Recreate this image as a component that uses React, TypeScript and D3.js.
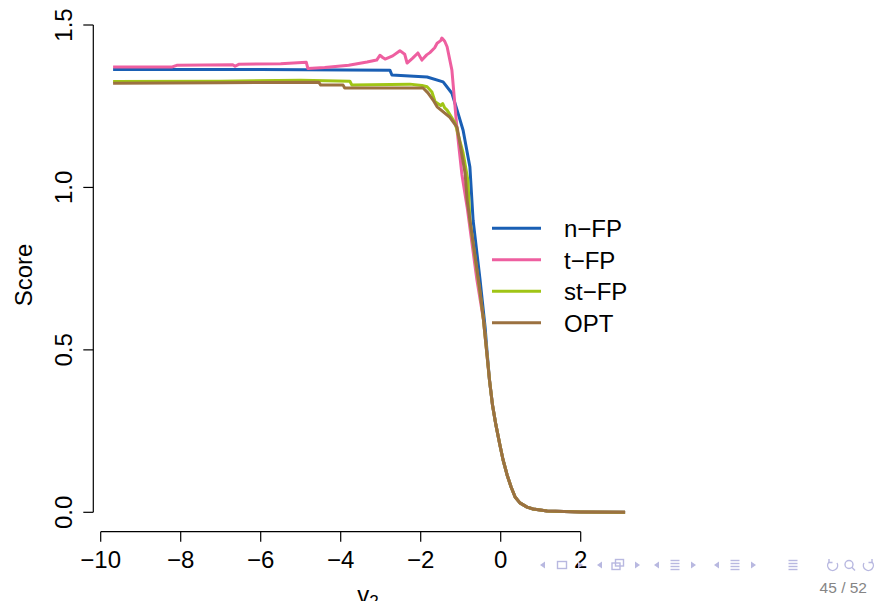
import React from 'react';
import { scaleLinear, line } from 'd3';

const width = 878;
const height = 601;

// axis ticks
const xTicks = [-10, -8, -6, -4, -2, 0, 2];
const yTicks = [0, 0.5, 1.0, 1.5];

// shared tail where all four curves coincide
const tail: [number, number][] = [
  [-0.28, 0.407], [-0.205, 0.33], [-0.12, 0.269], [-0.02, 0.207], [0.06, 0.161],
  [0.16, 0.115], [0.26, 0.078], [0.36, 0.047], [0.48, 0.029], [0.66, 0.016],
  [0.81, 0.01], [1.16, 0.004], [2.0, 0.001], [3.11, 0.0],
];

const nFP: [number, number][] = [
  [-9.69, 1.363], [-6.0, 1.363], [-2.77, 1.361], [-2.72, 1.346], [-1.84, 1.34],
  [-1.44, 1.325], [-1.22, 1.29], [-1.09, 1.238], [-0.94, 1.176], [-0.77, 1.063],
  [-0.69, 0.899], [-0.52, 0.72], [-0.39, 0.57], [-0.345, 0.5],
];

const tFP: [number, number][] = [
  [-9.69, 1.371], [-8.21, 1.371], [-8.1, 1.376], [-6.7, 1.378], [-6.64, 1.373],
  [-6.55, 1.379], [-5.5, 1.381], [-4.86, 1.385], [-4.82, 1.366], [-4.4, 1.369],
  [-3.8, 1.376], [-3.34, 1.386], [-3.1, 1.392], [-3.02, 1.407], [-2.95, 1.4],
  [-2.89, 1.395], [-2.7, 1.405], [-2.52, 1.421], [-2.4, 1.41], [-2.34, 1.383],
  [-2.2, 1.398], [-2.07, 1.414], [-1.97, 1.392], [-1.85, 1.408], [-1.77, 1.415],
  [-1.65, 1.43], [-1.59, 1.444], [-1.5, 1.452], [-1.47, 1.46], [-1.4, 1.45],
  [-1.34, 1.433], [-1.22, 1.361], [-1.09, 1.176], [-0.97, 1.04], [-0.84, 0.94],
  [-0.6, 0.72], [-0.43, 0.592], [-0.355, 0.5],
];

const stFP: [number, number][] = [
  [-9.69, 1.326], [-7.0, 1.327], [-5.0, 1.33], [-3.77, 1.327], [-3.72, 1.315],
  [-2.27, 1.318], [-1.97, 1.314], [-1.84, 1.31], [-1.72, 1.294], [-1.64, 1.264],
  [-1.5, 1.252], [-1.45, 1.258], [-1.4, 1.245], [-1.34, 1.238], [-1.14, 1.198],
  [-0.94, 1.106], [-0.82, 1.022], [-0.77, 0.899], [-0.5, 0.66], [-0.43, 0.592],
  [-0.355, 0.5],
];

const OPT: [number, number][] = [
  [-9.69, 1.321], [-7.0, 1.322], [-4.55, 1.324], [-4.5, 1.315], [-3.94, 1.315],
  [-3.9, 1.306], [-1.94, 1.306], [-1.82, 1.291], [-1.69, 1.269], [-1.59, 1.248],
  [-1.27, 1.216], [-1.09, 1.185], [-0.89, 1.044], [-0.84, 0.961], [-0.52, 0.684],
  [-0.43, 0.592], [-0.355, 0.5],
];

const seriesNames = ['n\u2212FP', 't\u2212FP', 'st\u2212FP', 'OPT'];
const seriesColors = ['#1A5FB4', '#EE5FA0', '#A0C516', '#9B7140'];
const seriesData = [nFP, tFP, stFP, OPT];

const font = '"Liberation Sans", Arial, Helvetica, sans-serif';
const navColor = '#B8B8E0';

const xScale = scaleLinear().domain([-10, 2]).range([100.7, 580.7]);
const yScale = scaleLinear().domain([0, 1.5]).range([512.3, 25]);

const path = line<[number, number]>()
  .x(d => xScale(d[0]))
  .y(d => yScale(d[1]));

const TriL = ({ x, y }: { x: number; y: number }) => (
  <path d={`M${x - 3},${y} L${x + 2},${y - 3.5} L${x + 2},${y + 3.5} Z`} fill={navColor} />
);
const TriR = ({ x, y }: { x: number; y: number }) => (
  <path d={`M${x + 3},${y} L${x - 2},${y - 3.5} L${x - 2},${y + 3.5} Z`} fill={navColor} />
);
const Bars = ({ x, y }: { x: number; y: number }) => (
  <g stroke={navColor} strokeWidth={1.4}>
    {[-4.5, -1.5, 1.5, 4.5].map((dy, i) => (
      <line key={i} x1={x - 4.5} x2={x + 4.5} y1={y + dy} y2={y + dy} />
    ))}
  </g>
);

const NavBar = () => {
  const y = 565;
  return (
    <g>
      <TriL x={543} y={y} />
      <rect x={557.5} y={y - 3.5} width={9} height={7} fill="none" stroke={navColor} strokeWidth={1.4} />
      <TriR x={580} y={y} />
      <TriL x={600} y={y} />
      <rect x={612} y={y - 2} width={8} height={6.5} fill="none" stroke={navColor} strokeWidth={1.4} />
      <rect x={615.5} y={y - 5.5} width={8} height={6.5} fill="none" stroke={navColor} strokeWidth={1.4} />
      <TriR x={637} y={y} />
      <TriL x={657} y={y} />
      <Bars x={675} y={y} />
      <TriR x={693} y={y} />
      <TriL x={717} y={y} />
      <Bars x={735} y={y} />
      <TriR x={753} y={y} />
      <Bars x={793} y={y} />
      <g fill="none" stroke={navColor} strokeWidth={1.4}>
        <path d={`M${829},${y - 3} A5,5 0 1 0 ${837},${y - 2}`} />
        <path d={`M${829},${y - 6} L${829},${y - 2.5} L${832.5},${y - 2.5}`} />
        <circle cx={849} cy={y - 0.5} r={4} />
        <line x1={851.8} y1={y + 2.3} x2={855} y2={y + 5.5} />
        <path d={`M${872},${y - 3} A5,5 0 1 1 ${864},${y - 2}`} />
        <path d={`M${872},${y - 6} L${872},${y - 2.5} L${868.5},${y - 2.5}`} />
      </g>
      <text x={867} y={593} textAnchor="end" fontFamily={font} fontSize={15.5} fill="#858585">
        45 / 52
      </text>
    </g>
  );
};

export default function App() {
  return (
    <svg
      width={width}
      height={height}
      style={{ position: 'absolute', left: 0, top: 0, display: 'block', background: '#fff' }}
    >
      <rect width={width} height={height} fill="#fff" />

      {/* curves */}
      {seriesData.map((d, i) => (
        <path
          key={seriesNames[i]}
          d={path(d.concat(tail)) || ''}
          fill="none"
          stroke={seriesColors[i]}
          strokeWidth={3}
          strokeLinejoin="round"
          strokeLinecap="butt"
        />
      ))}

      {/* y axis */}
      <g fontFamily={font} fontSize={24} fill="#000">
        <line x1={93.3} x2={93.3} y1={yScale(0)} y2={yScale(1.5)} stroke="#000" strokeWidth={1.2} />
        {yTicks.map(t => (
          <g key={t}>
            <line x1={83.3} x2={93.3} y1={yScale(t)} y2={yScale(t)} stroke="#000" strokeWidth={1.2} />
            <text
              transform={`translate(72,${yScale(t)}) rotate(-90)`}
              textAnchor="middle"
            >
              {t.toFixed(1)}
            </text>
          </g>
        ))}
        <text transform="translate(32,275) rotate(-90)" textAnchor="middle">
          Score
        </text>
      </g>

      {/* x axis */}
      <g fontFamily={font} fontSize={24} fill="#000">
        <line x1={xScale(-10)} x2={xScale(2)} y1={531.7} y2={531.7} stroke="#000" strokeWidth={1.2} />
        {xTicks.map(t => (
          <g key={t}>
            <line x1={xScale(t)} x2={xScale(t)} y1={531.7} y2={541.7} stroke="#000" strokeWidth={1.2} />
            <text x={xScale(t)} y={567.5} textAnchor="middle">
              {t < 0 ? `\u2212${Math.abs(t)}` : t}
            </text>
          </g>
        ))}
        <text x={368} y={602.5} textAnchor="middle">
          v<tspan fontSize={17} dy={4.5}>2</tspan>
        </text>
      </g>

      {/* legend */}
      <g fontFamily={font} fontSize={24}>
        {seriesNames.map((name, i) => {
          const ly = 228.3 + i * 31.5;
          return (
            <g key={name}>
              <line x1={492} x2={541} y1={ly} y2={ly} stroke={seriesColors[i]} strokeWidth={3} />
              <text x={564} y={ly + 9} fill="#000">
                {name}
              </text>
            </g>
          );
        })}
      </g>

      <NavBar />
    </svg>
  );
}
